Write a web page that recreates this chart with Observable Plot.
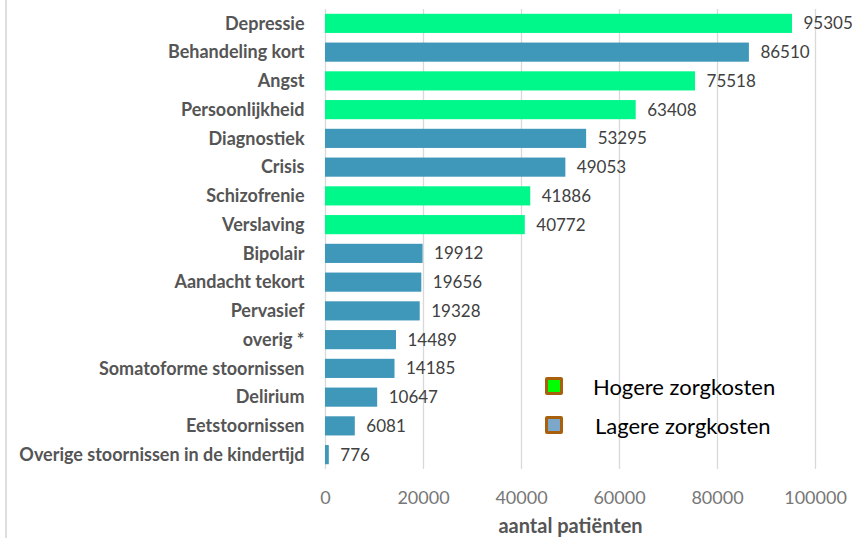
<!DOCTYPE html>
<html>
<head>
<meta charset="utf-8">
<script src="https://cdn.jsdelivr.net/npm/d3@7"></script>
<script src="https://cdn.jsdelivr.net/npm/@observablehq/plot@0.6"></script>
<style>
  html, body { margin: 0; padding: 0; background: #fff; }
  #wrap { position: relative; width: 857px; height: 538px; overflow: hidden; }
  #leftline { position: absolute; left: 5px; top: 0; width: 2px; height: 538px; background: #dedede; }
  .leg { position: absolute; font-family: Lato, "Open Sans", sans-serif; font-size: 22px; line-height: 22px; color: #000; white-space: nowrap; }
  .sw { position: absolute; width: 12px; height: 12px; border: 3px solid #a8600c; border-radius: 2px; }
</style>
</head>
<body>
<div id="wrap">
  <div id="leftline"></div>
</div>
<script>
const categories = ["Depressie","Behandeling kort","Angst","Persoonlijkheid","Diagnostiek","Crisis","Schizofrenie","Verslaving","Bipolair","Aandacht tekort","Pervasief","overig *","Somatoforme stoornissen","Delirium","Eetstoornissen","Overige stoornissen in de kindertijd"];
const values = [95305,86510,75518,63408,53295,49053,41886,40772,19912,19656,19328,14489,14185,10647,6081,776];
const costGroup = ["Hogere","Lagere","Hogere","Hogere","Lagere","Lagere","Hogere","Hogere","Lagere","Lagere","Lagere","Lagere","Lagere","Lagere","Lagere","Lagere"];
const xTicks = [0,20000,40000,60000,80000,100000];
const legendLabels = ["Hogere zorgkosten","Lagere zorgkosten"];
const legendFills = ["#00ff00","#7ba7cb"];

const data = categories.map((c,i) => ({cat: c, value: values[i], group: costGroup[i]}));

const chart = Plot.plot({
  width: 857,
  height: 538,
  marginLeft: 325,
  marginRight: 42,
  marginTop: 9,
  marginBottom: 69,
  style: {fontFamily: "Lato, 'Open Sans', sans-serif", background: "transparent"},
  x: {domain: [0, 100000], ticks: xTicks},
  y: {domain: categories, padding: 0, round: false},
  color: {domain: ["Hogere","Lagere"], range: ["#00f78a","#3f97b9"]},
  marks: [
    Plot.gridX(xTicks, {stroke: "#d9d9d9", strokeOpacity: 1, strokeWidth: 1.3}),
    Plot.barX(data, {x: "value", y: "cat", fill: "group", insetTop: 4.8, insetBottom: 4.8}),
    Plot.text(data, {x: "value", y: "cat", text: d => String(d.value), textAnchor: "start", dx: 11, fontSize: 17, fill: "#404040"}),
    Plot.axisY({tickSize: 0, tickPadding: 21, fontSize: 18, fontWeight: "bold", fill: "#555", label: null}),
    Plot.axisX({ticks: xTicks, tickSize: 0, tickPadding: 22, fontSize: 18, fill: "#777", tickFormat: d => String(d), label: null}),
    Plot.text(["aantal patiënten"], {frameAnchor: "bottom", dy: 63, fontSize: 20, fontWeight: "bold", fill: "#555"})
  ]
});
const wrap = document.getElementById("wrap");
wrap.appendChild(chart);
chart.style.position = "absolute";
chart.style.left = "0px";
chart.style.top = "0px";

const legTops = [377, 416];
legendLabels.forEach((lab, i) => {
  const sw = document.createElement("div");
  sw.className = "sw";
  sw.style.left = "545px";
  sw.style.top = legTops[i] + "px";
  sw.style.background = legendFills[i];
  wrap.appendChild(sw);
  const t = document.createElement("div");
  t.className = "leg";
  t.textContent = lab;
  t.style.left = (i === 0 ? 593 : 595) + "px";
  t.style.top = (legTops[i] + 10 - 11) + "px";
  wrap.appendChild(t);
});
</script>
</body>
</html>
